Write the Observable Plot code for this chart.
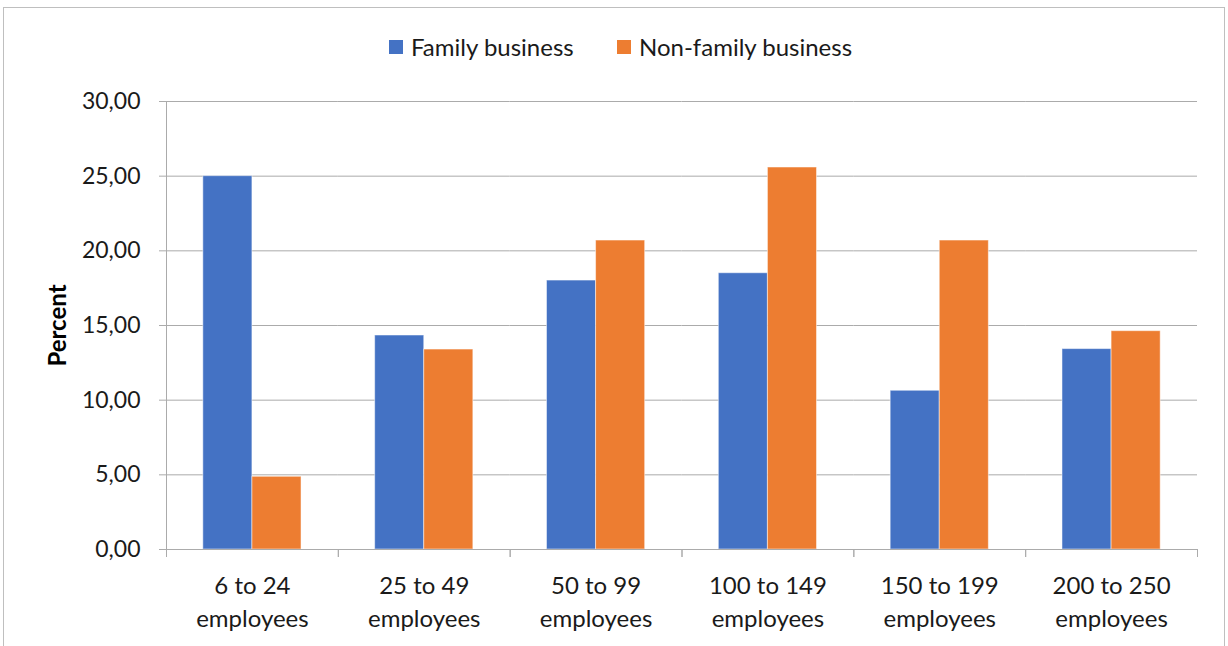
<!DOCTYPE html>
<html>
<head>
<meta charset="utf-8">
<script src="https://cdn.jsdelivr.net/npm/d3@7"></script>
<script src="https://cdn.jsdelivr.net/npm/@observablehq/plot@0.6"></script>
<style>
  html, body { margin: 0; padding: 0; background: #fff; }
  body { width: 1228px; height: 646px; position: relative; overflow: hidden; font-family: Lato, "Open Sans", sans-serif; }
  #frame { position: absolute; left: 3px; top: 7px; width: 1222px; height: 700px; border: 1px solid #bfbfbf; box-sizing: border-box; }
  #legend .item { position: absolute; top: 33px; display: flex; align-items: center; font-size: 24px; color: #1a1a1a; white-space: nowrap; line-height: 28px; }
  #legend .sw { width: 14px; height: 14px; margin-right: 8px; }
  #chart { position: absolute; left: 0; top: 80px; }
  [aria-label="y-axis label"] text { font-weight: bold; fill: #000; font-size: 24px; }
</style>
</head>
<body>
<div id="frame"></div>
<div id="legend"></div>
<div id="chart"></div>
<script>
const categories = ["6 to 24 employees", "25 to 49 employees", "50 to 99 employees", "100 to 149 employees", "150 to 199 employees", "200 to 250 employees"];
const series = ["Family business", "Non-family business"];
const familyValues = [25.00, 14.33, 18.01, 18.50, 10.63, 13.42];
const nonFamilyValues = [4.87, 13.39, 20.69, 25.58, 20.69, 14.62];
const seriesColors = ["#4472C4", "#ED7D31"];
const yTicks = [0, 5, 10, 15, 20, 25, 30];
const legendLeft = [389, 617];

const data = categories.flatMap((c, i) => [
  {category: c, series: series[0], value: familyValues[i]},
  {category: c, series: series[1], value: nonFamilyValues[i]}
]);

const legend = document.getElementById("legend");
series.forEach((s, i) => {
  const item = document.createElement("div");
  item.className = "item";
  item.style.left = legendLeft[i] + "px";
  const sw = document.createElement("div");
  sw.className = "sw";
  sw.style.background = seriesColors[i];
  const t = document.createElement("span");
  t.textContent = s;
  item.appendChild(sw); item.appendChild(t);
  legend.appendChild(item);
});

const W = 1228, H = 559, mt = 21, mb = 90;
const innerH = H - mt - mb;
const grid = "#ababab";

const chart = Plot.plot({
  width: W, height: H,
  marginLeft: 166, marginRight: 31, marginTop: mt, marginBottom: mb,
  style: {fontFamily: "Lato, 'Open Sans', sans-serif", fontSize: "24px", color: "#1a1a1a", background: "transparent"},
  fx: {domain: categories, paddingInner: 0, paddingOuter: 0, round: false, label: null},
  x: {domain: series, paddingInner: 0, paddingOuter: 0.75, round: false, axis: null},
  y: {domain: [0, 30], label: null},
  color: {domain: series, range: seriesColors},
  marks: [
    Plot.gridY(yTicks, {stroke: grid, strokeOpacity: 1}),
    Plot.axisY(yTicks, {tickSize: 7, tickPadding: 19, stroke: grid, fontSize: 23, tickFormat: d => d.toFixed(2).replace(".", ","),
      label: "Percent", labelAnchor: "center", labelOffset: 118, labelArrow: "none"}),
    Plot.barY(data, {fx: "category", x: "series", y: "value", fill: "series", stroke: "#fff", strokeOpacity: 0.5, strokeWidth: 1}),
    Plot.ruleY([0], {stroke: grid}),
    Plot.frame({anchor: "left", facetAnchor: "left", stroke: grid, insetBottom: -7}),
    Plot.frame({anchor: "left", stroke: grid, insetTop: innerH, insetBottom: -7}),
    Plot.frame({anchor: "right", stroke: grid, insetTop: innerH, insetBottom: -7}),
    Plot.axisFx({anchor: "bottom", tickSize: 0, tickPadding: 21, lineHeight: 1.38, label: null,
      tickFormat: d => d.replace(" employees", "\nemployees")})
  ]
});
document.getElementById("chart").appendChild(chart);
</script>
</body>
</html>
